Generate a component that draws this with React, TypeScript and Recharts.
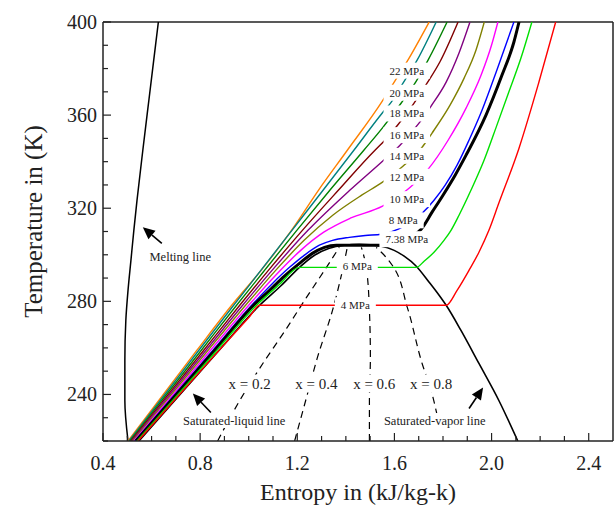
import React from "react";
import {
  LineChart,
  Line,
  XAxis,
  YAxis,
  ReferenceLine,
  ReferenceDot,
  Label,
} from "recharts";

type Pt = { s: number; T: number };
const toPts = (rows: number[][]): Pt[] => rows.map(([s, T]) => ({ s, T }));

// isobars: [entropy kJ/kg-K, temperature K]
const iso4 = toPts([[0.544, 220], [0.86, 256.9], [1.004, 273.5], [1.045, 278.3], [1.813, 278.3], [1.858, 284.7], [1.907, 293.3], [1.948, 301.1], [1.989, 310.5], [2.03, 322.2], [2.113, 345.8], [2.195, 374.2], [2.264, 400]]);
const iso6 = toPts([[0.54, 220], [0.868, 258.9], [1.032, 278.3], [1.127, 287.3], [1.209, 294.6], [1.69, 294.6], [1.722, 297.2], [1.763, 301.1], [1.804, 306.2], [1.833, 310.5], [1.866, 317.0], [1.915, 327.7], [1.969, 340.6], [2.022, 355.7], [2.071, 369.9], [2.121, 384.5], [2.166, 400]]);
const iso738 = toPts([[0.536, 220], [0.859, 258.9], [1.02, 278.3], [1.086, 284.7], [1.147, 290.8], [1.209, 296.3], [1.262, 300.6], [1.312, 303.2], [1.361, 304.1], [1.546, 304.1], [1.62, 305.8], [1.71, 311.0], [1.755, 318.3], [1.8, 325.6], [1.85, 334.2], [1.895, 342.8], [1.977, 360.0], [2.043, 377.2], [2.092, 391.4], [2.113, 400]]);
const iso8 = toPts([[0.531, 220], [0.852, 258.9], [1.012, 278.3], [1.098, 287.7], [1.168, 294.6], [1.234, 300.2], [1.291, 304.1], [1.345, 306.2], [1.414, 307.5], [1.48, 308.3], [1.546, 308.8], [1.616, 311.0], [1.714, 317.8], [1.763, 323.4], [1.809, 329.9], [1.858, 338.5], [1.907, 349.2], [1.961, 362.2], [2.022, 379.4], [2.092, 400]]);
const iso10 = toPts([[0.527, 220], [0.842, 258.9], [1.0, 278.3], [1.111, 291.2], [1.214, 301.9], [1.309, 309.7], [1.418, 315.7], [1.551, 320.9], [1.665, 329.0], [1.739, 336.8], [1.821, 349.2], [1.895, 363.0], [1.957, 377.2], [2.0, 390.1], [2.026, 400]]);
const iso12 = toPts([[0.523, 220], [0.832, 258.9], [0.987, 278.3], [1.111, 293.3], [1.228, 306.2], [1.346, 317.0], [1.465, 325.6], [1.551, 331.2], [1.636, 338.1], [1.714, 346.2], [1.755, 352.3], [1.829, 364.3], [1.887, 375.9], [1.936, 388.0], [1.97, 400]]);
const iso14 = toPts([[0.519, 220], [0.823, 258.9], [0.975, 278.3], [1.096, 293.3], [1.244, 310.5], [1.416, 327.7], [1.551, 340.2], [1.623, 347.1], [1.698, 356.1], [1.751, 363.9], [1.813, 374.2], [1.866, 386.7], [1.911, 400]]);
const iso16 = toPts([[0.515, 220], [0.814, 258.9], [0.963, 278.3], [1.081, 293.3], [1.221, 310.5], [1.369, 327.7], [1.52, 344.9], [1.55, 348.0], [1.616, 356.1], [1.678, 364.7], [1.735, 373.8], [1.787, 382.8], [1.862, 400]]);
const iso18 = toPts([[0.511, 220], [0.804, 258.9], [0.95, 278.3], [1.065, 293.3], [1.198, 310.5], [1.334, 327.7], [1.474, 344.9], [1.55, 354.4], [1.628, 365.2], [1.69, 374.6], [1.739, 383.7], [1.817, 400]]);
const iso20 = toPts([[0.507, 220], [0.794, 258.9], [0.938, 278.3], [1.05, 293.3], [1.178, 310.5], [1.306, 327.7], [1.433, 344.9], [1.55, 360.9], [1.587, 365.6], [1.636, 373.8], [1.694, 383.7], [1.772, 400]]);
const iso22 = toPts([[0.503, 220], [0.786, 258.9], [0.93, 278.3], [1.051, 293.3], [1.176, 310.5], [1.287, 327.7], [1.406, 344.9], [1.55, 366.0], [1.599, 374.2], [1.653, 383.2], [1.743, 400]]);

// saturation dome and melting line
const dome = toPts([[0.548, 220], [0.86, 256.8], [1.045, 278.3], [1.135, 286.9], [1.209, 294.6], [1.271, 299.8], [1.332, 302.8], [1.394, 304.1], [1.455, 304.5], [1.546, 303.7], [1.599, 301.9], [1.64, 299.4], [1.69, 295.1], [1.743, 288.2], [1.784, 282.6], [1.813, 278.3], [1.874, 267.5], [1.948, 253.3], [2.03, 237.4], [2.108, 220]]);
const melting = toPts([[0.503, 220], [0.49, 237.4], [0.49, 254.6], [0.494, 271.8], [0.503, 284.7], [0.515, 297.6], [0.527, 310.5], [0.54, 323.4], [0.564, 344.9], [0.589, 366.5], [0.609, 383.7], [0.628, 400]]);

// constant quality lines
const q02 = toPts([[0.872, 220], [0.963, 237.4], [1.045, 251.2], [1.156, 268.4], [1.238, 281.7], [1.32, 294.6], [1.373, 303.2]]);
const q04 = toPts([[1.189, 220], [1.238, 238.7], [1.283, 255.9], [1.345, 276.1], [1.386, 293.3], [1.406, 303.2]]);
const q06 = toPts([[1.497, 220], [1.497, 237.4], [1.501, 255.9], [1.497, 276.1], [1.484, 294.6], [1.464, 303.2]]);
const q08 = toPts([[1.776, 231.0], [1.751, 241.7], [1.714, 253.3], [1.653, 277.4], [1.591, 295.5], [1.558, 299.8], [1.525, 303.2]]);

const xTicks = [0.4, 0.5, 0.6, 0.7, 0.8, 0.9, 1.0, 1.1, 1.2, 1.3, 1.4, 1.5, 1.6, 1.7, 1.8, 1.9, 2.0, 2.1, 2.2, 2.3, 2.4];
const xTickLabels = [0.4, 0.8, 1.2, 1.6, 2.0, 2.4];
const yTicks = [220, 230, 240, 250, 260, 270, 280, 290, 300, 310, 320, 330, 340, 350, 360, 370, 380, 390, 400];
const yTickLabels = [240, 280, 320, 360, 400];

const pressureLabels = [
  { text: "22 MPa", s: 1.651, T: 379.1 },
  { text: "20 MPa", s: 1.651, T: 369.6 },
  { text: "18 MPa", s: 1.651, T: 360.7 },
  { text: "16 MPa", s: 1.651, T: 351.4 },
  { text: "14 MPa", s: 1.651, T: 342.5 },
  { text: "12 MPa", s: 1.651, T: 333.5 },
  { text: "10 MPa", s: 1.651, T: 323.9 },
  { text: "8 MPa", s: 1.636, T: 314.8 },
  { text: "7.38 MPa", s: 1.651, T: 306.7 },
  { text: "6 MPa", s: 1.447, T: 295.1 },
  { text: "4 MPa", s: 1.439, T: 278.3 },
];
const qualityLabels = [
  { text: "x = 0.2", s: 1.004, T: 244.7 },
  { text: "x = 0.4", s: 1.279, T: 244.7 },
  { text: "x = 0.6", s: 1.517, T: 244.7 },
  { text: "x = 0.8", s: 1.751, T: 244.7 },
];
const noteLabels = [
  { text: "Melting line", s: 0.718, T: 298.9 },
  { text: "Saturated-liquid line", s: 0.94, T: 228.8 },
  { text: "Saturated-vapor line", s: 1.766, T: 228.8 },
];
// arrow tips, with the pixel direction toward the tail
const arrows = [
  { s: 0.564, T: 311.8, dx: 19, dy: 16 },
  { s: 0.77, T: 240.4, dx: 18, dy: 19 },
  { s: 1.965, T: 243.0, dx: -14, dy: 21 },
];

const isobars = [
  { id: "22", data: iso22, color: "#ff8000", w: 1.4 },
  { id: "20", data: iso20, color: "#008080", w: 1.4 },
  { id: "18", data: iso18, color: "#008000", w: 1.4 },
  { id: "16", data: iso16, color: "#800000", w: 1.4 },
  { id: "14", data: iso14, color: "#800080", w: 1.4 },
  { id: "12", data: iso12, color: "#808000", w: 1.4 },
  { id: "10", data: iso10, color: "#ff00ff", w: 1.4 },
  { id: "8", data: iso8, color: "#0000ff", w: 1.4 },
  { id: "7.38", data: iso738, color: "#000000", w: 3 },
  { id: "6", data: iso6, color: "#00e000", w: 1.4 },
  { id: "4", data: iso4, color: "#ff0000", w: 1.4 },
];

const SERIF = '"Liberation Serif", "Times New Roman", Times, "DejaVu Serif", "Nimbus Roman", FreeSerif, serif';
const AXIS = "#222";
const serifStyle = { fontFamily: SERIF };

const isIn = (list: number[], v: number) => list.some((t) => Math.abs(t - v) < 1e-6);

let ctx: CanvasRenderingContext2D | null = null;
function textWidth(t: string, size: number) {
  if (!ctx) ctx = document.createElement("canvas").getContext("2d");
  if (!ctx) return t.length * size * 0.5;
  ctx.font = `${size}px ${SERIF}`;
  return ctx.measureText(t).width;
}

function XTick(props: any) {
  const { x, y, payload } = props;
  const major = isIn(xTickLabels, payload.value);
  return (
    <g>
      <line x1={x} x2={x} y1={y} y2={y - (major ? 8 : 5)} stroke={AXIS} strokeWidth={1.2} />
      {major && (
        <text x={x} y={y + 22} textAnchor="middle" dominantBaseline="central" fontSize={20} style={serifStyle} fill="#222">
          {Number(payload.value).toFixed(1)}
        </text>
      )}
    </g>
  );
}

function YTick(props: any) {
  const { x, y, payload } = props;
  const major = isIn(yTickLabels, payload.value);
  return (
    <g>
      <line x1={x} x2={x + (major ? 8 : 5)} y1={y} y2={y} stroke={AXIS} strokeWidth={1.2} />
      {major && (
        <text x={x - 6} y={y} textAnchor="end" dominantBaseline="central" fontSize={20} style={serifStyle} fill="#222">
          {payload.value}
        </text>
      )}
    </g>
  );
}

function BoxText(props: { cx: number; cy: number; text: string; size: number; pad: number; h: number }) {
  const { cx, cy, text, size, pad, h } = props;
  const w = textWidth(text, size) + pad * 2;
  return (
    <g>
      <rect x={cx - w / 2} y={cy - h / 2} width={w} height={h} fill="#fff" />
      <text x={cx} y={cy} textAnchor="middle" dominantBaseline="central" fontSize={size} style={serifStyle} fill="#222">
        {text}
      </text>
    </g>
  );
}

function Arrow(props: { cx: number; cy: number; dx: number; dy: number }) {
  const { cx, cy, dx, dy } = props;
  const len = Math.hypot(dx, dy);
  const ux = dx / len;
  const uy = dy / len;
  const head = 12;
  const half = 5.5;
  const bx = cx + ux * head;
  const by = cy + uy * head;
  return (
    <g>
      <line x1={bx} y1={by} x2={cx + dx} y2={cy + dy} stroke="#000" strokeWidth={1.6} />
      <polygon
        points={`${cx},${cy} ${bx - uy * half},${by + ux * half} ${bx + uy * half},${by - ux * half}`}
        fill="#000"
      />
    </g>
  );
}

export default function App() {
  return (
    <div style={{ position: "absolute", left: 0, top: 0, width: 616, height: 509, background: "#fff" }}>
      <LineChart width={616} height={509} margin={{ top: 22, right: 3, bottom: 8, left: 0 }}>
        <XAxis
          type="number"
          dataKey="s"
          domain={[0.4, 2.5]}
          allowDataOverflow
          ticks={xTicks}
          interval={0}
          tickSize={0}
          tickMargin={0}
          tickLine={false}
          tick={XTick}
          height={60}
          axisLine={{ stroke: AXIS, strokeWidth: 1.5 }}
        >
          <Label
            content={(p: any) => {
              const vb = p.viewBox || { x: 103, y: 441, width: 510 };
              return (
                <text x={vb.x + vb.width / 2} y={vb.y + 51} textAnchor="middle" dominantBaseline="central" fontSize={24} style={serifStyle} fill="#222">
                  Entropy in (kJ/kg-k)
                </text>
              );
            }}
          />
        </XAxis>
        <YAxis
          type="number"
          domain={[220, 400]}
          allowDataOverflow
          ticks={yTicks}
          interval={0}
          tickSize={0}
          tickMargin={0}
          tickLine={false}
          tick={YTick}
          width={103}
          axisLine={{ stroke: AXIS, strokeWidth: 1.5 }}
        >
          <Label
            content={(p: any) => {
              const vb = p.viewBox || { x: 0, y: 22, width: 103, height: 419 };
              const cx = 33;
              const cy = vb.y + vb.height / 2 - 10;
              return (
                <text x={cx} y={cy} transform={`rotate(-90, ${cx}, ${cy})`} textAnchor="middle" dominantBaseline="central" fontSize={25} style={serifStyle} fill="#222">
                  Temperature in (K)
                </text>
              );
            }}
          />
        </YAxis>

        <ReferenceLine y={400} stroke={AXIS} strokeWidth={1.5} />
        <ReferenceLine x={2.5} stroke={AXIS} strokeWidth={1.5} />

        {[q02, q04, q06, q08].map((q, i) => (
          <Line key={`q${i}`} data={q} dataKey="T" type="monotoneY" stroke="#000" strokeWidth={1.2} strokeDasharray="7 5" dot={false} activeDot={false} isAnimationActive={false} />
        ))}
        <Line data={dome} dataKey="T" type="monotoneX" stroke="#000" strokeWidth={1.6} dot={false} activeDot={false} isAnimationActive={false} />
        <Line data={melting} dataKey="T" type="monotoneY" stroke="#000" strokeWidth={1.5} dot={false} activeDot={false} isAnimationActive={false} />
        {isobars.map((b) => (
          <Line key={b.id} data={b.data} dataKey="T" type="monotoneX" stroke={b.color} strokeWidth={b.w} dot={false} activeDot={false} isAnimationActive={false} />
        ))}

        {pressureLabels.map((l) => (
          <ReferenceDot key={l.text} x={l.s} y={l.T} r={0} isFront zIndex={2500} shape={(p: any) => <BoxText cx={p.cx} cy={p.cy} text={l.text} size={11} pad={6} h={16} />} />
        ))}
        {qualityLabels.map((l) => (
          <ReferenceDot key={l.text} x={l.s} y={l.T} r={0} isFront zIndex={2500} shape={(p: any) => <BoxText cx={p.cx} cy={p.cy} text={l.text} size={15} pad={3} h={18} />} />
        ))}
        {noteLabels.map((l) => (
          <ReferenceDot key={l.text} x={l.s} y={l.T} r={0} isFront zIndex={2500} shape={(p: any) => <BoxText cx={p.cx} cy={p.cy} text={l.text} size={12.5} pad={2} h={15} />} />
        ))}
        {arrows.map((a, i) => (
          <ReferenceDot key={`a${i}`} x={a.s} y={a.T} r={0} isFront zIndex={2500} shape={(p: any) => <Arrow cx={p.cx} cy={p.cy} dx={a.dx} dy={a.dy} />} />
        ))}
      </LineChart>
    </div>
  );
}
